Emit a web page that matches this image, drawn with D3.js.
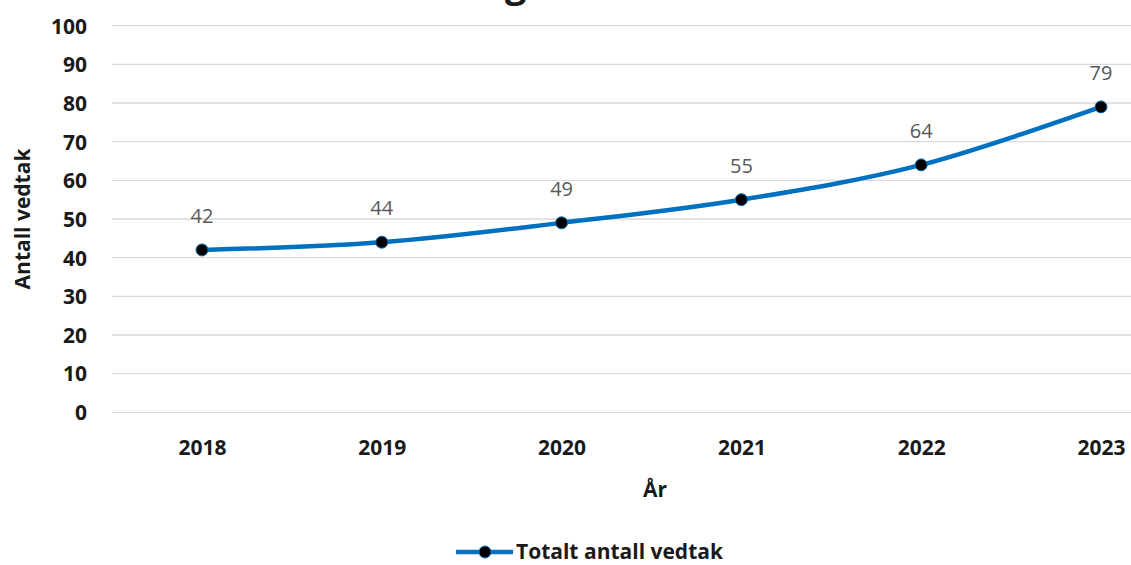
<!DOCTYPE html>
<html>
<head>
<meta charset="utf-8">
<script src="https://cdn.jsdelivr.net/npm/d3@7"></script>
<style>
  html, body { margin: 0; padding: 0; background: #fff; }
  svg { display: block; }
</style>
</head>
<body>
<svg id="chart" width="1131" height="565"></svg>
<script>
const titleText = "Utvikling i antall vedtak 2018-2023";
const years = ["2018", "2019", "2020", "2021", "2022", "2023"];
const values = [42, 44, 49, 55, 64, 79];
const yTicks = [0, 10, 20, 30, 40, 50, 60, 70, 80, 90, 100];
const seriesName = "Totalt antall vedtak";
const xTitle = "År";
const yTitle = "Antall vedtak";

const W = 1131, H = 565;
const svg = d3.select("#chart");
const font = "'Open Sans', 'Liberation Sans', sans-serif";
const textCol = "#1a1a1a";

const plotLeft = 112, plotRight = 1131;
const x = d3.scalePoint().domain(years).range([202, 1101]);
const y = d3.scaleLinear().domain([0, 100]).range([412.3, 25.7]);

// title (cropped at the top edge in the reference)
svg.append("text")
  .attr("x", 680).attr("y", -3)
  .attr("text-anchor", "middle")
  .attr("font-family", font).attr("font-weight", "bold")
  .attr("font-size", 38).attr("fill", textCol)
  .text(titleText);

// gridlines
svg.append("g").selectAll("line").data(yTicks).join("line")
  .attr("x1", plotLeft).attr("x2", plotRight)
  .attr("y1", d => y(d)).attr("y2", d => y(d))
  .attr("stroke", "#d9d9d9").attr("stroke-width", 1.3);

// y axis labels
const yAxis = d3.axisLeft(y).tickValues(yTicks).tickSize(0).tickPadding(0);
const gy = svg.append("g").attr("transform", "translate(87,0)").call(yAxis);
gy.select(".domain").remove();
gy.selectAll("text")
  .attr("font-family", font).attr("font-weight", "bold")
  .attr("font-size", 21).attr("fill", textCol).attr("dy", "0.35em");

// x axis labels
const xAxis = d3.axisBottom(x).tickSize(0).tickPadding(0);
const gx = svg.append("g").attr("transform", "translate(0,448)").call(xAxis);
gx.select(".domain").remove();
gx.selectAll("text")
  .attr("y", 0)
  .attr("font-family", font).attr("font-weight", "bold")
  .attr("font-size", 21).attr("fill", textCol).attr("dy", "0.35em");

// axis titles
svg.append("text")
  .attr("x", 655).attr("y", 490).attr("dy", "0.35em")
  .attr("text-anchor", "middle")
  .attr("font-family", font).attr("font-weight", "bold")
  .attr("font-size", 21).attr("fill", textCol)
  .text(xTitle);

svg.append("text")
  .attr("transform", "translate(23,219) rotate(-90)")
  .attr("text-anchor", "middle")
  .attr("dy", "0.35em")
  .attr("font-family", font).attr("font-weight", "bold")
  .attr("font-size", 21).attr("fill", textCol)
  .text(yTitle);

// line
const data = years.map((yr, i) => ({ yr, v: values[i] }));
const line = d3.line()
  .x(d => x(d.yr)).y(d => y(d.v))
  .curve(d3.curveCatmullRom.alpha(0));
svg.append("path").datum(data)
  .attr("d", line)
  .attr("fill", "none")
  .attr("stroke", "#0070C0").attr("stroke-width", 4.5)
  .attr("stroke-linecap", "round");

// markers
svg.append("g").selectAll("circle").data(data).join("circle")
  .attr("cx", d => x(d.yr)).attr("cy", d => y(d.v))
  .attr("r", 6).attr("fill", "#000")
  .attr("stroke", "#0070C0").attr("stroke-width", 1);

// data labels
svg.append("g").selectAll("text").data(data).join("text")
  .attr("x", d => x(d.yr)).attr("y", d => y(d.v) - 27)
  .attr("text-anchor", "middle")
  .attr("font-family", font).attr("font-size", 20)
  .attr("fill", "#595959")
  .text(d => d.v);

// legend
const lg = svg.append("g");
lg.append("line").attr("x1", 456).attr("x2", 513).attr("y1", 552).attr("y2", 552)
  .attr("stroke", "#0070C0").attr("stroke-width", 4.5);
lg.append("circle").attr("cx", 485).attr("cy", 552).attr("r", 6)
  .attr("fill", "#000").attr("stroke", "#0070C0").attr("stroke-width", 1);
lg.append("text").attr("x", 516).attr("y", 552).attr("dy", "0.35em")
  .attr("font-family", font).attr("font-weight", "bold")
  .attr("font-size", 21).attr("fill", textCol)
  .text(seriesName);
</script>
</body>
</html>
